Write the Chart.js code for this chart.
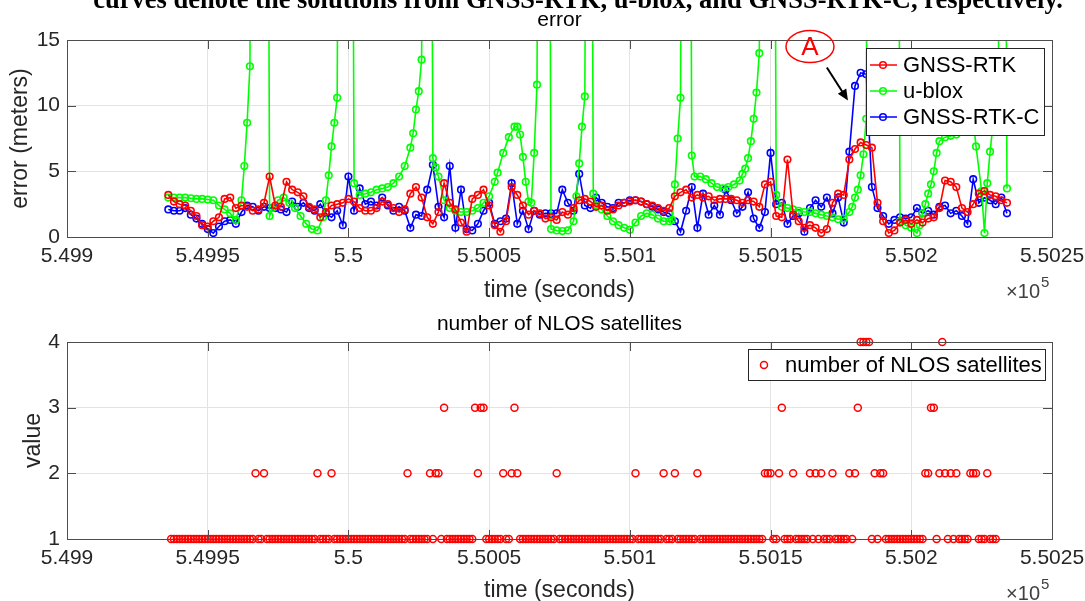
<!DOCTYPE html>
<html>
<head>
<meta charset="utf-8">
<script src="https://cdn.jsdelivr.net/npm/chart.js@4.4.1/dist/chart.umd.min.js"></script>
<style>
  html, body { margin: 0; padding: 0; background: #fff; overflow: hidden; }
  body { width: 1085px; height: 601px; position: relative; }
  .box { position: absolute; left: 0; width: 1085px; }
  #topBox { top: 0; height: 305px; }
  #bottomBox { top: 305px; height: 310px; }
  #caption {
    position: absolute; left: 0; top: -14px; width: 1085px; padding-left: 71px; box-sizing: border-box;
    text-align: center; white-space: nowrap; color: #000;
    font: bold 26.5px "Liberation Serif", "Times New Roman", serif; line-height: 26px;
  }
</style>
</head>
<body>
<div class="box" id="topBox"><canvas id="errorChart"></canvas></div>
<div class="box" id="bottomBox"><canvas id="nlosChart"></canvas></div>
<div id="caption">curves denote the solutions from GNSS-RTK, u-blox, and GNSS-RTK-C, respectively.</div>
<script>
  "use strict";

  // time axis (seconds), shown as x 10^5
  const T0 = 549900;
  const timeTicks = [549900, 549950, 550000, 550050, 550100, 550150, 550200, 550250];
  const timeTickLabels = ['5.499', '5.4995', '5.5', '5.5005', '5.501', '5.5015', '5.502', '5.5025'];
  const errTicks = [0, 5, 10, 15];
  const nlosTicks = [1, 2, 3, 4];

  // GNSS-RTK and GNSS-RTK-C, sampled every 2 s from T0+36 to T0+334
  const rtkSec = [];
  for (let s = 36; s <= 334; s += 2) rtkSec.push(s);

  const gnssRtk = [
    3.2, 2.7, 2.5, 2.4, 2.0, 1.6, 0.9, 0.8, 1.2, 1.5,
    2.9, 3.0, 2.2, 2.4, 2.3, 2.0, 2.1, 2.6, 4.6, 2.4,
    2.3, 4.2, 3.6, 3.4, 3.1, 2.3, 2.1, 1.5, 1.9, 2.4,
    2.5, 2.6, 2.9, 2.7, 2.2, 2.0, 2.0, 2.2, 2.7, 2.5,
    2.2, 1.9, 2.1, 3.3, 3.8, 3.0, 1.5, 1.0, 1.9, 4.1,
    2.6, 2.1, 1.1, 0.4, 2.9, 3.2, 3.6, 2.4, 0.9, 0.4,
    1.2, 3.8, 3.2, 2.4, 1.7, 2.0, 1.8, 1.4, 1.5, 1.3,
    1.9, 1.7, 2.2, 2.8, 2.9, 2.7, 2.3, 2.4, 2.0, 2.1,
    2.4, 2.6, 2.7, 2.8, 2.7, 2.5, 2.4, 2.2, 2.0, 2.2,
    3.1, 3.4, 3.6, 3.0, 3.2, 3.0, 3.1, 2.8, 2.9, 2.9,
    2.9, 2.8, 2.6, 2.8, 2.7, 2.3, 4.0, 4.2, 1.6, 1.5,
    5.9, 1.7, 1.2, 0.7, 0.9, 0.7, 0.3, 0.6, 2.6, 3.3,
    3.2, 5.9, 6.7, 7.2, 7.0, 6.8, 2.6, 1.2, 0.3, 0.5,
    1.1, 1.3, 1.0, 1.3, 1.1, 1.4, 1.5, 2.2, 4.3, 4.2,
    3.8, 2.2, 1.9, 2.5, 3.3, 3.5, 3.2, 3.1, 2.8, 2.6
  ];

  const gnssRtkC = [
    2.1, 2.0, 2.0, 2.2, 1.7, 1.4, 1.0, 0.6, 0.3, 0.8,
    1.2, 1.3, 1.0, 1.9, 2.4, 2.3, 2.0, 2.3, 2.2, 2.2,
    2.1, 1.9, 2.7, 2.3, 2.6, 2.2, 2.0, 2.5, 1.8, 1.5,
    2.0, 0.9, 4.6, 2.0, 3.7, 2.5, 2.7, 2.4, 3.0, 2.4,
    2.0, 2.3, 2.0, 0.7, 1.7, 1.6, 3.6, 5.5, 2.3, 1.5,
    5.4, 0.7, 3.6, 0.6, 0.5, 1.0, 2.0, 2.6, 1.0, 1.2,
    1.4, 4.1, 1.0, 2.0, 0.6, 2.0, 1.7, 1.8, 1.8, 1.8,
    3.6, 2.6, 2.0, 4.8, 2.4, 2.2, 3.0, 2.6, 2.3, 2.2,
    2.6, 2.6, 2.8, 2.8, 2.7, 2.5, 2.3, 2.1, 1.9, 1.8,
    1.2, 0.4, 2.0, 3.8, 0.7, 3.3, 1.7, 2.4, 1.7, 3.6,
    2.8, 1.8, 2.3, 3.4, 1.4, 0.7, 1.9, 6.4, 2.5, 2.6,
    1.0, 1.6, 1.8, 0.4, 2.2, 2.8, 2.3, 3.0, 1.8, 3.0,
    1.1, 6.5, 11.5, 12.5, 12.4, 3.8, 2.2, 1.6, 1.0, 1.3,
    1.5, 1.4, 1.5, 2.2, 1.8, 2.0, 1.7, 2.3, 2.4, 1.8,
    2.0, 1.6, 1.0, 4.4, 2.6, 3.0, 2.8, 2.5, 3.0, 1.8
  ];

  // u-blox: its own sample times (seconds after T0); 60 = far above the axis
  const ubloxSec = [
    36, 38, 40, 42, 44, 46, 48, 50, 52, 54, 56, 58, 60, 62, 63, 64, 65, 66, 68, 70,
    71, 72, 73, 75, 77, 79, 81, 83, 85, 87, 89, 91, 92, 93, 94, 95, 96, 97, 99, 101,
    102, 104, 106, 108, 110, 112, 114, 116, 118, 120, 122, 123, 124, 125, 126, 127, 129, 130, 131, 132,
    134, 136, 138, 140, 142, 144, 146, 148, 150, 152, 153, 155, 157, 159, 160, 161, 162, 163, 164, 165,
    166, 167, 168, 170, 171, 172, 174, 176, 178, 180, 181, 182, 183, 184, 185, 186, 187, 188, 190, 192,
    194, 196, 198, 200, 202, 204, 206, 208, 210, 212, 214, 215, 216, 217, 218, 219, 221, 222, 223, 225,
    227, 229, 231, 233, 235, 237, 239, 240, 241, 242, 243, 244, 245, 246, 247, 249, 251, 252, 254, 256,
    258, 260, 262, 264, 266, 268, 270, 272, 274, 276, 278, 279, 280, 281, 282, 283, 284, 285, 287, 289,
    291, 293, 295, 296, 298, 300, 302, 303, 304, 305, 306, 307, 308, 309, 310, 312, 314, 316, 318, 320,
    322, 323, 325, 326, 327, 328, 329, 330, 331, 332, 333, 334
  ];
  const ublox = [
    3.0, 3.0, 3.0, 3.0, 2.95, 2.9, 2.9, 2.85, 2.8, 2.4, 2.1, 1.8, 1.3, 2.8, 5.4, 8.7, 13.0, 60, 60, 60,
    60, 1.6, 2.2, 2.8, 3.0, 2.6, 2.2, 1.6, 1.0, 0.6, 0.5, 1.5, 2.8, 4.7, 6.9, 8.7, 10.6, 60, 60, 60,
    4.1, 3.2, 3.3, 3.4, 3.6, 3.7, 3.8, 4.1, 4.6, 5.4, 6.8, 7.9, 9.7, 11.1, 13.5, 60, 60, 6.0, 5.3, 4.6,
    2.8, 2.2, 2.0, 1.9, 1.9, 2.0, 2.2, 2.6, 3.1, 4.2, 4.9, 6.4, 7.6, 8.4, 8.4, 7.8, 6.1, 4.2, 2.7, 2.6,
    6.4, 11.6, 60, 60, 60, 0.6, 0.5, 0.45, 0.5, 1.2, 3.1, 5.6, 8.4, 10.7, 60, 60, 3.3, 2.4, 2.1, 1.6,
    1.2, 0.9, 0.7, 0.55, 1.1, 1.6, 1.8, 1.7, 1.4, 1.2, 1.2, 1.3, 4.0, 7.5, 10.6, 60, 60, 6.2, 4.6, 4.6,
    4.4, 4.1, 3.8, 3.7, 3.8, 4.0, 4.3, 4.8, 5.2, 6.0, 7.3, 9.0, 11.0, 14.0, 60, 60, 60, 3.2, 2.3, 2.2,
    2.1, 2.0, 1.9, 1.9, 1.8, 1.7, 1.6, 1.5, 1.35, 1.4, 1.9, 2.3, 3.0, 3.6, 4.7, 6.3, 9.0, 60, 60, 60,
    60, 60, 60, 1.2, 0.9, 0.7, 0.3, 0.9, 1.8, 2.5, 3.3, 4.0, 5.0, 6.4, 7.3, 7.6, 7.7, 7.8, 9.5, 10.5,
    9.0, 6.9, 3.5, 0.3, 4.1, 6.5, 8.5, 11.0, 14.0, 60, 60, 3.7
  ];

  // number of NLOS satellites, one value per second from T0+37
  const nlosStartSec = 37;
  const nlosCount = [
    1, 1, 1, 1, 1, 1, 1, 1, 1, 1, 1, 1, 1, 1, 1, 1, 1, 1, 1, 1,
    1, 1, 1, 1, 1, 1, 1, 1, 1, 1, 2, 1, 1, 2, 1, 1, 1, 1, 1, 1,
    1, 1, 1, 1, 1, 1, 1, 1, 1, 1, 1, 1, 2, 1, 1, 1, 1, 2, 1, 1,
    1, 1, 1, 1, 1, 1, 1, 1, 1, 1, 1, 1, 1, 1, 1, 1, 1, 1, 1, 1,
    1, 1, 1, 1, 2, 1, 1, 1, 1, 1, 1, 1, 2, 1, 2, 2, 1, 3, 1, 1,
    1, 1, 1, 1, 1, 1, 1, 1, 3, 2, 3, 3, 1, 1, 1, 1, 1, 1, 2, 1,
    1, 2, 3, 2, 1, 1, 1, 1, 1, 1, 1, 1, 1, 1, 1, 1, 1, 2, 1, 1,
    1, 1, 1, 1, 1, 1, 1, 1, 1, 1, 1, 1, 1, 1, 1, 1, 1, 1, 1, 1,
    1, 1, 1, 1, 1, 2, 1, 1, 1, 1, 1, 1, 1, 1, 1, 2, 1, 1, 1, 2,
    1, 1, 1, 1, 1, 1, 1, 2, 1, 1, 1, 1, 1, 1, 1, 1, 1, 1, 1, 1,
    1, 1, 1, 1, 1, 1, 1, 1, 1, 1, 1, 2, 2, 2, 1, 1, 2, 3, 1, 1,
    1, 2, 1, 1, 1, 1, 1, 2, 1, 2, 1, 2, 1, 1, 1, 2, 1, 1, 1, 1,
    1, 2, 1, 2, 3, 4, 4, 4, 4, 1, 2, 1, 2, 2, 1, 1, 1, 1, 1, 1,
    1, 1, 1, 1, 1, 1, 1, 1, 2, 2, 3, 3, 1, 2, 4, 2, 1, 2, 1, 2,
    1, 1, 1, 1, 2, 2, 2, 1, 1, 1, 2, 1, 1, 1
  ];

  const FONT = '"Liberation Sans", Arial, Helvetica, sans-serif';
  const AXIS_COLOR = '#262626';
  Chart.defaults.font.family = FONT;
  Chart.defaults.color = AXIS_COLOR;

  function points(secs, values) {
    return secs.map(function (s, i) { return { x: T0 + s, y: values[i] }; });
  }

  function lineSet(label, color, data) {
    return {
      label: label, data: data, showLine: true,
      borderColor: color, backgroundColor: 'rgba(0,0,0,0)', borderWidth: 1.6,
      pointRadius: 3.3, pointBorderWidth: 1.6, pointBorderColor: color,
      pointBackgroundColor: 'rgba(0,0,0,0)',
      clip: { left: 5, right: 5, top: 0, bottom: 5 }
    };
  }

  // frame with inward tick marks, like a boxed MATLAB axes
  const boxedAxes = {
    id: 'boxedAxes',
    afterDatasetsDraw(chart) {
      const { ctx, chartArea: a, scales } = chart;
      ctx.save();
      ctx.strokeStyle = '#4d4d4d';
      ctx.lineWidth = 1;
      ctx.beginPath();
      scales.x.ticks.forEach(function (t) {
        const px = Math.round(scales.x.getPixelForValue(t.value)) + 0.5;
        ctx.moveTo(px, a.bottom); ctx.lineTo(px, a.bottom - 9);
        ctx.moveTo(px, a.top); ctx.lineTo(px, a.top + 9);
      });
      scales.y.ticks.forEach(function (t) {
        const py = Math.round(scales.y.getPixelForValue(t.value)) + 0.5;
        ctx.moveTo(a.left, py); ctx.lineTo(a.left + 9, py);
        ctx.moveTo(a.right, py); ctx.lineTo(a.right - 9, py);
      });
      ctx.stroke();
      ctx.strokeRect(Math.round(a.left) + 0.5, Math.round(a.top) + 0.5,
        Math.round(a.right - a.left), Math.round(a.bottom - a.top));
      ctx.restore();
    },
    afterDraw(chart) {
      // x10^5 exponent under the right end of the time axis
      const { ctx, chartArea: a } = chart;
      ctx.save();
      ctx.fillStyle = '#404040';
      ctx.textBaseline = 'middle';
      ctx.textAlign = 'right';
      ctx.font = '20px ' + FONT;
      ctx.fillText('\u00d710', a.right - 12, a.bottom + 55);
      ctx.textAlign = 'left';
      ctx.font = '15px ' + FONT;
      ctx.fillText('5', a.right - 11, a.bottom + 46);
      ctx.restore();
    }
  };

  // legend drawn inside the plot, on top of the lines
  const insideLegend = {
    id: 'insideLegend',
    afterDatasetsDraw(chart, args, o) {
      const { ctx, chartArea: a } = chart;
      const x0 = Math.round(a.right - o.inset - o.width);
      const y0 = Math.round(a.top + o.inset);
      ctx.save();
      ctx.fillStyle = '#fff';
      ctx.fillRect(x0, y0, o.width, o.height);
      ctx.strokeStyle = '#262626';
      ctx.lineWidth = 1;
      ctx.strokeRect(x0 + 0.5, y0 + 0.5, o.width, o.height);
      ctx.font = '22px ' + FONT;
      ctx.textBaseline = 'middle';
      ctx.textAlign = 'left';
      chart.data.datasets.forEach(function (ds, i) {
        const y = y0 + o.firstRow + i * o.rowGap;
        ctx.strokeStyle = ds.borderColor;
        ctx.lineWidth = 1.5;
        if (ds.showLine) {
          ctx.beginPath(); ctx.moveTo(x0 + 4, y); ctx.lineTo(x0 + 31, y); ctx.stroke();
        }
        ctx.beginPath(); ctx.arc(x0 + o.markerX, y, ds.pointRadius, 0, Math.PI * 2); ctx.stroke();
        ctx.fillStyle = '#000';
        ctx.fillText(ds.label, x0 + o.textX, y + 1);
      });
      ctx.restore();
    }
  };

  // red "A" callout with an arrow
  const callout = {
    id: 'callout',
    afterDatasetsDraw(chart, args, o) {
      const { ctx, scales } = chart;
      const cx = scales.x.getPixelForValue(o.label.x), cy = scales.y.getPixelForValue(o.label.y);
      const fx = scales.x.getPixelForValue(o.from.x), fy = scales.y.getPixelForValue(o.from.y);
      const tx = scales.x.getPixelForValue(o.to.x), ty = scales.y.getPixelForValue(o.to.y);
      ctx.save();
      ctx.strokeStyle = '#ff0000';
      ctx.lineWidth = 1.5;
      ctx.beginPath(); ctx.ellipse(cx, cy, 24, 16, 0, 0, Math.PI * 2); ctx.stroke();
      ctx.fillStyle = '#ff0000';
      ctx.font = '26px ' + FONT;
      ctx.textAlign = 'center';
      ctx.textBaseline = 'middle';
      ctx.fillText(o.text, cx, cy + 1);
      const ang = Math.atan2(ty - fy, tx - fx);
      ctx.strokeStyle = '#000';
      ctx.fillStyle = '#000';
      ctx.lineWidth = 2;
      ctx.beginPath();
      ctx.moveTo(fx, fy);
      ctx.lineTo(tx - 8 * Math.cos(ang), ty - 8 * Math.sin(ang));
      ctx.stroke();
      ctx.beginPath();
      ctx.moveTo(tx, ty);
      ctx.lineTo(tx - 11 * Math.cos(ang) + 5 * Math.sin(ang), ty - 11 * Math.sin(ang) - 5 * Math.cos(ang));
      ctx.lineTo(tx - 11 * Math.cos(ang) - 5 * Math.sin(ang), ty - 11 * Math.sin(ang) + 5 * Math.cos(ang));
      ctx.closePath();
      ctx.fill();
      ctx.restore();
    }
  };

  function timeAxis(height, titlePad) {
    return {
      type: 'linear', min: timeTicks[0], max: timeTicks[timeTicks.length - 1],
      afterBuildTicks: function (scale) { scale.ticks = timeTicks.map(function (v) { return { value: v }; }); },
      afterFit: function (scale) {
        scale.height = height;
        // let the end labels hang past the plot box, as MATLAB does
        scale.paddingLeft = 0;
        scale.paddingRight = 0;
      },
      ticks: {
        autoSkip: false, maxRotation: 0, padding: 7, color: AXIS_COLOR, font: { size: 21 },
        callback: function (value) { return timeTickLabels[timeTicks.indexOf(value)]; }
      },
      grid: { color: '#e3e3e3', drawTicks: false },
      border: { display: false },
      title: { display: true, text: 'time (seconds)', color: AXIS_COLOR, font: { size: 23 }, padding: { top: 0, bottom: titlePad } }
    };
  }

  function valueAxis(tickValues, label, titlePad) {
    return {
      type: 'linear', min: tickValues[0], max: tickValues[tickValues.length - 1],
      afterBuildTicks: function (scale) { scale.ticks = tickValues.map(function (v) { return { value: v }; }); },
      afterFit: function (scale) { scale.width = 67; scale.paddingTop = 0; scale.paddingBottom = 0; },
      ticks: { padding: 7, color: AXIS_COLOR, font: { size: 21 } },
      grid: { color: '#e3e3e3', drawTicks: false },
      border: { display: false },
      title: { display: true, text: label, color: AXIS_COLOR, font: { size: 23 }, padding: { top: titlePad, bottom: 0 } }
    };
  }

  const common = {
    responsive: true, maintainAspectRatio: false, animation: false, devicePixelRatio: 1, events: [],
    layout: { padding: { left: 0, right: 33, top: 0, bottom: 0 } }
  };

  new Chart(document.getElementById('errorChart').getContext('2d'), {
    type: 'scatter',
    data: {
      datasets: [
        lineSet('GNSS-RTK', '#ff0000', points(rtkSec, gnssRtk)),
        lineSet('u-blox', '#00ff00', points(ubloxSec, ublox)),
        lineSet('GNSS-RTK-C', '#0000ff', points(rtkSec, gnssRtkC))
      ]
    },
    options: Object.assign({}, common, {
      scales: { x: timeAxis(68, 1), y: valueAxis(errTicks, 'error (meters)', 7) },
      plugins: {
        legend: { display: false },
        tooltip: { enabled: false },
        title: { display: true, text: 'error', fullSize: false, color: '#000', font: { size: 21, weight: 'normal' }, padding: { top: 7.4, bottom: 7.4 } },
        insideLegend: { inset: 8, width: 178, height: 87, firstRow: 17, rowGap: 26, markerX: 17, textX: 37 },
        callout: { text: 'A', label: { x: 550164, y: 14.5 }, from: { x: 550170, y: 12.9 }, to: { x: 550177.5, y: 10.4 } }
      }
    }),
    plugins: [boxedAxes, insideLegend, callout]
  });

  const nlosSec = nlosCount.map(function (v, i) { return nlosStartSec + i; });

  new Chart(document.getElementById('nlosChart').getContext('2d'), {
    type: 'scatter',
    data: {
      datasets: [{
        label: 'number of NLOS satellites',
        data: points(nlosSec, nlosCount),
        showLine: false,
        borderColor: '#ff0000', backgroundColor: 'rgba(0,0,0,0)',
        pointRadius: 3.5, pointBorderWidth: 1.5, pointBorderColor: '#ff0000',
        pointBackgroundColor: 'rgba(0,0,0,0)', clip: false
      }]
    },
    options: Object.assign({}, common, {
      scales: { x: timeAxis(76, 11), y: valueAxis(nlosTicks, 'value', 20) },
      plugins: {
        legend: { display: false },
        tooltip: { enabled: false },
        title: { display: true, text: 'number of NLOS satellites', fullSize: false, color: '#000', font: { size: 21, weight: 'normal' }, padding: { top: 6.4, bottom: 5.4 } },
        insideLegend: { inset: 7, width: 297, height: 31, firstRow: 16, rowGap: 26, markerX: 16, textX: 37 }
      }
    }),
    plugins: [boxedAxes, insideLegend]
  });
</script>
</body>
</html>
